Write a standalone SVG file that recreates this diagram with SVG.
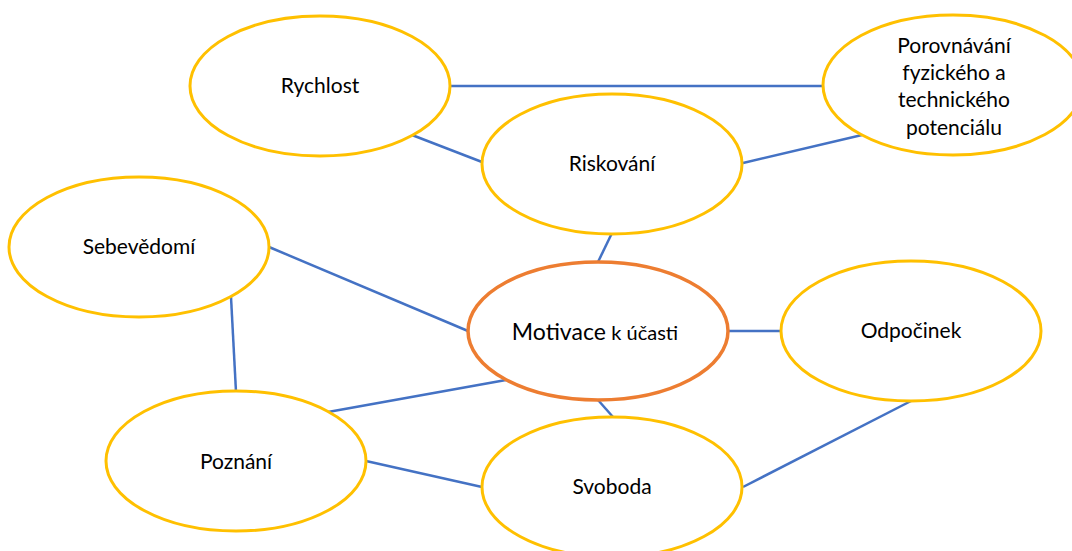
<svg xmlns="http://www.w3.org/2000/svg" width="1072" height="551" viewBox="0 0 1072 551">
<style>
.n{fill:#fff;stroke:#FFC000;stroke-width:3}
.m{fill:#fff;stroke:#ED7D31;stroke-width:3.5}
.t{font-family:Lato,"Open Sans","Liberation Sans",sans-serif;font-size:21px;fill:#000;text-anchor:middle}
.c line{stroke:#4472C4;stroke-width:2.5}
</style>
<rect width="1072" height="551" fill="#fff"/>
<g class="c" id="connectors">
<line x1="450" y1="86" x2="823" y2="86"/>
<line x1="412" y1="135" x2="482" y2="162"/>
<line x1="743" y1="163" x2="862" y2="135"/>
<line x1="612" y1="233" x2="598" y2="262"/>
<line x1="269" y1="247" x2="468" y2="331"/>
<line x1="231" y1="297" x2="236" y2="392"/>
<line x1="328" y1="412" x2="506" y2="380"/>
<line x1="728" y1="331" x2="781" y2="331"/>
<line x1="598" y1="400" x2="613" y2="417"/>
<line x1="366" y1="461" x2="482" y2="487"/>
<line x1="743" y1="487" x2="911" y2="401"/>
</g>
<g id="rychlost"><ellipse class="n" cx="320" cy="86" rx="130" ry="70"/><text class="t" x="320" y="93">Rychlost</text></g>
<g id="porovnavani"><ellipse class="n" cx="953" cy="85" rx="130" ry="70"/>
<text class="t" x="954" y="53">Porovnávání</text>
<text class="t" x="954" y="80">fyzického a</text>
<text class="t" x="954" y="107">technického</text>
<text class="t" x="954" y="135">potenciálu</text></g>
<g id="riskovani"><ellipse class="n" cx="612" cy="164" rx="130" ry="70"/><text class="t" x="612" y="171">Riskování</text></g>
<g id="sebevedomi"><ellipse class="n" cx="139" cy="247" rx="130" ry="70"/><text class="t" x="139" y="254">Sebevědomí</text></g>
<g id="motivace"><ellipse class="m" cx="598" cy="331" rx="130" ry="69"/><text class="t" x="595" y="340"><tspan font-size="23">Motivace</tspan> <tspan font-size="20">k účasti</tspan></text></g>
<g id="odpocinek"><ellipse class="n" cx="911" cy="331" rx="130" ry="70"/><text class="t" x="911" y="338">Odpočinek</text></g>
<g id="poznani"><ellipse class="n" cx="236" cy="461" rx="130" ry="70"/><text class="t" x="236" y="469">Poznání</text></g>
<g id="svoboda"><ellipse class="n" cx="612" cy="487" rx="130" ry="70"/><text class="t" x="612" y="494">Svoboda</text></g>
</svg>
